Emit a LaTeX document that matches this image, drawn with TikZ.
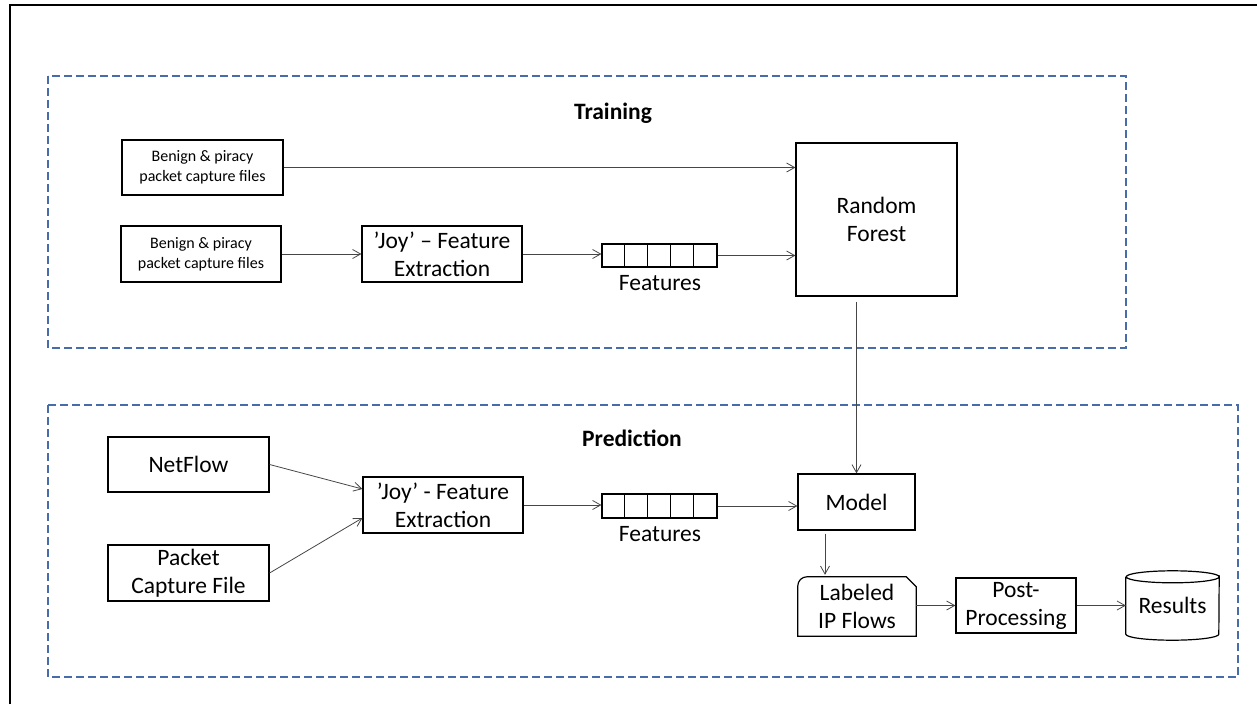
\documentclass[tikz,border=0pt]{standalone}
\usepackage{fontspec}
\setmainfont{Carlito}
\usetikzlibrary{arrows.meta,calc}
\definecolor{groupblue}{RGB}{72,108,170}
\definecolor{wiregray}{RGB}{70,70,70}
\tikzset{
  procbox/.style={draw=black, line width=1.2pt, inner sep=0pt, align=center,
    font=\fontsize{23.5}{28}\selectfont},
  smallbox/.style={procbox, font=\fontsize{16}{20}\selectfont},
  arraybox/.style={draw=black, line width=1.2pt, inner sep=0pt,
    minimum width=115pt, minimum height=23pt},
  plain/.style={inner sep=0pt, align=center, font=\fontsize{23.5}{28}\selectfont},
  grouptitle/.style={inner sep=0pt, font=\bfseries\fontsize{23.5}{28}\selectfont},
  groupframe/.style={draw=groupblue, line width=1.1pt, dash pattern=on 8pt off 4pt},
  wire/.style={draw=wiregray, line width=0.8pt,
    -{Straight Barb[length=8pt,width=9pt,line width=0.8pt]}},
}
\begin{document}
\begin{tikzpicture}[x=1pt,y=-1pt]
\useasboundingbox (0,0) rectangle (1257,704);

% page frame (left and top edges visible)
\draw[line width=1.6pt] (10,704) -- (10,5) -- (1257,5);

% group frames
\draw[groupframe] (48,76) rectangle (1126,348);
\draw[groupframe] (48,405) rectangle (1238,677);

\node[grouptitle] (ttrain) at (613,113) {Training};
\node[grouptitle] (tpred) at (632,438) {Prediction};

% ---- training ----
\node[smallbox, minimum width=161pt, minimum height=55pt] (ben1) at (202.5,167.5)
  {Benign \& piracy\\packet capture files};
\node[smallbox, minimum width=160pt, minimum height=56pt] (ben2) at (201,254)
  {Benign \& piracy\\packet capture files};
\node[procbox, minimum width=160pt, minimum height=56pt] (joyT) at (442,254)
  {'Joy' – Feature\\Extraction};
\node[arraybox] (featT) at (659.5,255.5) {};
\foreach \i in {1,...,4}
  \draw[line width=1.2pt] ([xshift=\i*23pt]featT.north west) -- ([xshift=\i*23pt]featT.south west);
\node[plain] (featTl) at (660,283) {Features};
\node[procbox, minimum width=161pt, minimum height=153pt] (rf) at (876.5,219.5)
  {Random\\Forest};

\draw[wire] (ben1.east) -- (ben1.east -| rf.west);
\draw[wire] (ben2.east) -- (joyT.west);
\draw[wire] (joyT.east) -- (joyT.east -| featT.west);
\draw[wire] (featT.east) -- (featT.east -| rf.west);

% ---- prediction ----
\node[procbox, minimum width=161pt, minimum height=55pt] (netflow) at (188.5,464.5) {NetFlow};
\node[procbox, minimum width=161pt, minimum height=56pt] (pcap) at (188.5,573)
  {Packet\\Capture File};
\node[procbox, minimum width=160pt, minimum height=56pt] (joyP) at (443,505)
  {'Joy' - Feature\\Extraction};
\node[arraybox, minimum height=24pt] (featP) at (659.5,506) {};
\foreach \i in {1,...,4}
  \draw[line width=1.2pt] ([xshift=\i*23pt]featP.north west) -- ([xshift=\i*23pt]featP.south west);
\node[plain] (featPl) at (660,534) {Features};
\node[procbox, minimum width=117pt, minimum height=56pt] (model) at (856.5,502) {Model};

% labeled flows: card with rounded top-left and cut top-right corner
\node[plain, minimum width=118pt, minimum height=59pt] (flows) at (857,606.5)
  {Labeled\\IP Flows};
\draw[line width=1.2pt]
  ([yshift=-9pt]flows.north west) arc[start angle=180, end angle=90, radius=9pt]
  -- ([xshift=-10pt]flows.north east) -- ([yshift=-10pt]flows.north east)
  -- (flows.south east) -- (flows.south west) -- cycle;

\node[procbox, minimum width=120pt, minimum height=55pt] (post) at (1016,605.5)
  {Post-\\Processing};

% results store: cylinder
\node[plain, minimum width=93pt, minimum height=69pt] (results) at (1172.5,605.5) {Results};
\draw[line width=1.2pt]
  ($(results.north west)+(0,6)$) -- ($(results.south west)+(0,-6)$)
  arc[start angle=180, end angle=360, x radius=46.5pt, y radius=6pt]
  -- ($(results.north east)+(0,6)$)
  arc[start angle=0, end angle=-180, x radius=46.5pt, y radius=6pt]
  arc[start angle=180, end angle=0, x radius=46.5pt, y radius=6pt];

\coordinate (rfdrop) at ([yshift=-5pt]rf.south -| model.north);
\coordinate (mdrop) at ([yshift=-3pt]model.south -| 825,0);
\coordinate (fltop) at ([yshift=2pt]flows.north -| 825,0);

\draw[wire] (netflow.east) -- ([yshift=16pt]joyP.west);
\draw[wire] (pcap.east) -- ([yshift=-13pt]joyP.west);
\draw[wire] (joyP.east) -- (joyP.east -| featP.west);
\draw[wire] (featP.east) -- (featP.east -| model.west);
\draw[wire] (rfdrop) -- (model.north);
\draw[wire] (mdrop) -- (fltop);
\draw[wire] (flows.east |- post.west) -- (post.west);
\draw[wire] (post.east) -- (post.east -| results.west);
\end{tikzpicture}
\end{document}
